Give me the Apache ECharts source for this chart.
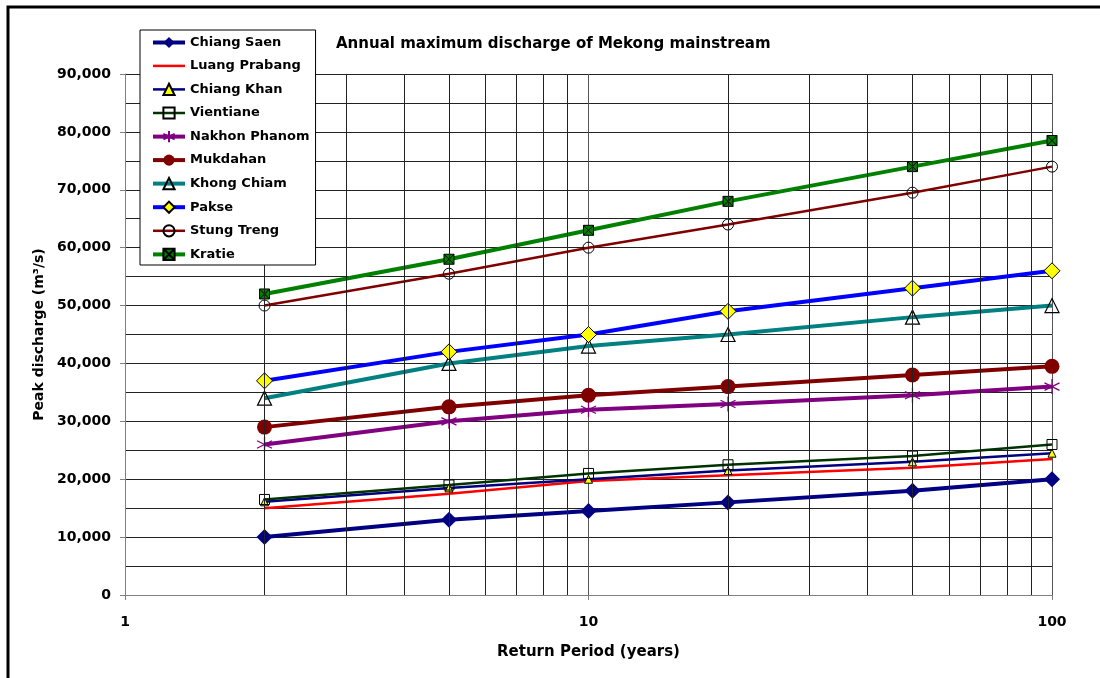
<!DOCTYPE html>
<html>
<head>
<meta charset="utf-8">
<script src="https://cdn.jsdelivr.net/npm/echarts@6/dist/echarts.min.js"></script>
<style>
html, body { margin: 0; padding: 0; background: #fff; }
#main { width: 1100px; height: 678px; }
</style>
</head>
<body>
<div id="main"></div>
<script>
// return periods (years)
var returnPeriods = [2, 5, 10, 20, 50, 100];
// minor vertical grid lines on the log axis
var minorX = [2, 3, 4, 5, 6, 7, 8, 9, 20, 30, 40, 50, 60, 70, 80, 90];

var chiangSaen   = [10000, 13000, 14500, 16000, 18000, 20000];
var luangPrabang = [15000, 17500, 19700, 20700, 22000, 23500];
var chiangKhan   = [16100, 18500, 20000, 21500, 23000, 24500];
var vientiane    = [16500, 19000, 21000, 22500, 24000, 26000];
var nakhonPhanom = [26000, 30000, 32000, 33000, 34500, 36000];
var mukdahan     = [29000, 32500, 34500, 36000, 38000, 39500];
var khongChiam   = [34000, 40000, 43000, 45000, 48000, 50000];
var pakse        = [37000, 42000, 45000, 49000, 53000, 56000];
var stungTreng   = [50000, 55500, 60000, 64000, 69500, 74000];
var kratie       = [52000, 58000, 63000, 68000, 74000, 78500];

var FONT = '"DejaVu Sans", Arial, sans-serif';

var myChart = echarts.init(document.getElementById('main'));

function pairs(vals) {
    var out = [];
    for (var i = 0; i < returnPeriods.length; i++) out.push([returnPeriods[i], vals[i]]);
    return out;
}

function mkSeries(name, vals, lineColor, lineWidth, symbol, size, fill, border, borderWidth, showSym) {
    return {
        name: name,
        type: 'line',
        data: pairs(vals),
        symbol: symbol,
        symbolSize: size,
        showSymbol: showSym !== false,
        lineStyle: { color: lineColor, width: lineWidth },
        itemStyle: { color: fill, borderColor: border, borderWidth: borderWidth },
        emphasis: { disabled: true },
        animation: false,
        z: 3
    };
}

var asterisk = 'path://M5,0 L5,10 M0.7,2.5 L9.3,7.5 M9.3,2.5 L0.7,7.5';
var boxX = 'path://M0,0 L10,0 L10,10 L0,10 Z M0,0 L10,10 M10,0 L0,10';
var none = 'rgba(0,0,0,0)';

var series = [
    mkSeries('Chiang Saen', chiangSaen, '#000080', 4, 'diamond', 16, '#000080', '#000080', 0),
    mkSeries('Luang Prabang', luangPrabang, '#FF0000', 2.5, 'circle', 1, none, none, 0, false),
    mkSeries('Chiang Khan', chiangKhan, '#000080', 2.5, 'triangle', 8, '#FFFF00', '#000', 1),
    mkSeries('Vientiane', vientiane, '#003300', 2.5, 'rect', 10, none, '#000', 1),
    mkSeries('Nakhon Phanom', nakhonPhanom, '#800080', 4, asterisk, 15, none, '#800080', 1.3),
    mkSeries('Mukdahan', mukdahan, '#800000', 4, 'circle', 15, '#800000', '#800000', 0),
    mkSeries('Khong Chiam', khongChiam, '#008080', 4, 'triangle', 14, none, '#000', 1.2),
    mkSeries('Pakse', pakse, '#0000FF', 4, 'diamond', 16, '#FFFF00', '#000', 1),
    mkSeries('Stung Treng', stungTreng, '#800000', 2.5, 'circle', 11, none, '#000', 1),
    mkSeries('Kratie', kratie, '#008000', 4, boxX, 10, '#008000', '#000', 1)
];

// minor vertical grid lines drawn through the x scale
series.push({
    name: 'minor-grid',
    type: 'line',
    data: [],
    silent: true,
    z: 1,
    markLine: {
        silent: true,
        symbol: 'none',
        animation: false,
        label: { show: false },
        lineStyle: { color: '#222', width: 1, type: 'solid' },
        data: minorX.map(function (v) { return { xAxis: v }; })
    }
});

option = {
    animation: false,
    backgroundColor: '#fff',
    textStyle: { fontFamily: FONT },
    title: {
        text: 'Annual maximum discharge of Mekong mainstream',
        left: 331,
        top: 32,
        textStyle: { fontFamily: FONT, fontSize: 15, fontWeight: 'bold', color: '#000' }
    },
    legend: {
        data: series.slice(0, 10).map(function (s) { return s.name; }),
        orient: 'vertical',
        left: 140,
        top: 30,
        padding: [6, 6, 4, 11],
        itemGap: 10.4,
        itemWidth: 32,
        itemHeight: 14,
        backgroundColor: '#fff',
        borderColor: '#000',
        borderWidth: 1,
        selectedMode: false,
        lineStyle: { width: 'inherit' },
        textStyle: { fontFamily: FONT, fontSize: 13, fontWeight: 'bold', color: '#000' },
        z: 10
    },
    grid: {
        left: 125,
        right: 48,
        top: 74,
        bottom: 83
    },
    xAxis: {
        type: 'log',
        logBase: 10,
        min: 1,
        max: 100,
        name: 'Return Period (years)',
        nameLocation: 'middle',
        nameGap: 50,
        nameTextStyle: { fontFamily: FONT, fontSize: 15, fontWeight: 'bold', color: '#000' },
        axisLine: { lineStyle: { color: '#808080', width: 1 } },
        axisTick: { show: true, length: 5, lineStyle: { color: '#808080' } },
        axisLabel: { margin: 20, fontFamily: FONT, fontSize: 14, fontWeight: 'bold', color: '#000' },
        splitLine: { show: true, lineStyle: { color: '#555', width: 1 } }
    },
    yAxis: {
        type: 'value',
        min: 0,
        max: 90000,
        interval: 10000,
        name: 'Peak discharge (m\u00B3/s)',
        nameLocation: 'middle',
        nameGap: 78,
        nameTextStyle: { fontFamily: FONT, fontSize: 14, fontWeight: 'bold', color: '#000' },
        axisLine: { show: true, lineStyle: { color: '#808080', width: 1 } },
        axisTick: { show: true, length: 5, inside: false, lineStyle: { color: '#808080' } },
        axisLabel: {
            margin: 14,
            fontFamily: FONT, fontSize: 14, fontWeight: 'bold', color: '#000',
            formatter: function (v) { return v.toLocaleString('en-US'); }
        },
        splitLine: { show: true, lineStyle: { color: '#222', width: 1 } },
        minorTick: { show: false, splitNumber: 2 },
        minorSplitLine: { show: true, lineStyle: { color: '#222', width: 1 } }
    },
    graphic: [{
        type: 'rect',
        shape: { x: 8, y: 7, width: 1200, height: 800 },
        style: { fill: 'none', stroke: '#000', lineWidth: 3 },
        silent: true,
        z: 100
    }],
    series: series
};

myChart.setOption(option);
</script>
</body>
</html>
